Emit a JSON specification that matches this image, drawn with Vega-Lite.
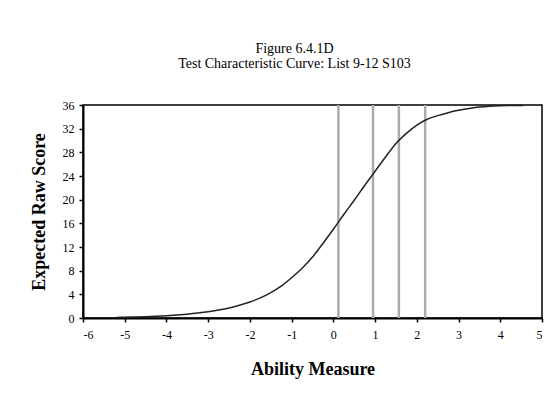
{
  "$schema": "https://vega.github.io/schema/vega-lite/v6.json",
  "width": 459,
  "height": 213,
  "autosize": {"type": "none"},
  "padding": {"left": 83, "top": 105, "right": 17, "bottom": 75},
  "background": "white",
  "title": {
    "text": ["Figure 6.4.1D", "Test Characteristic Curve: List 9-12 S103"],
    "font": "Liberation Serif",
    "fontSize": 14,
    "fontWeight": "normal",
    "color": "#000",
    "anchor": "middle",
    "dx": -18,
    "offset": 28,
    "lineHeight": 15
  },
  "config": {
    "view": {"stroke": "#000", "strokeWidth": 1.5},
    "axis": {
      "labelFont": "Liberation Serif",
      "labelFontSize": 12,
      "labelColor": "#000",
      "titleFont": "Liberation Serif",
      "titleFontSize": 18,
      "titleFontWeight": "bold",
      "titleColor": "#000",
      "domainColor": "#000",
      "domainWidth": 2,
      "tickColor": "#000",
      "tickWidth": 1.5,
      "tickSize": 4,
      "grid": false
    }
  },
  "datasets": {
    "curve": [
      {"theta": -5.2, "score": 0.10},
      {"theta": -5.0, "score": 0.13},
      {"theta": -4.75, "score": 0.17},
      {"theta": -4.5, "score": 0.22},
      {"theta": -4.25, "score": 0.29},
      {"theta": -4.0, "score": 0.38},
      {"theta": -3.75, "score": 0.50},
      {"theta": -3.5, "score": 0.65},
      {"theta": -3.25, "score": 0.83},
      {"theta": -3.0, "score": 1.05},
      {"theta": -2.75, "score": 1.35},
      {"theta": -2.5, "score": 1.7},
      {"theta": -2.25, "score": 2.15},
      {"theta": -2.0, "score": 2.7},
      {"theta": -1.75, "score": 3.4},
      {"theta": -1.5, "score": 4.3},
      {"theta": -1.25, "score": 5.4},
      {"theta": -1.0, "score": 6.8},
      {"theta": -0.75, "score": 8.4},
      {"theta": -0.5, "score": 10.3},
      {"theta": -0.25, "score": 12.6},
      {"theta": 0.0, "score": 15.0},
      {"theta": 0.25, "score": 17.5},
      {"theta": 0.5, "score": 19.9},
      {"theta": 0.75, "score": 22.4},
      {"theta": 1.0, "score": 24.8},
      {"theta": 1.25, "score": 27.2},
      {"theta": 1.5, "score": 29.5},
      {"theta": 1.75, "score": 31.2},
      {"theta": 2.0, "score": 32.6},
      {"theta": 2.25, "score": 33.6},
      {"theta": 2.5, "score": 34.2},
      {"theta": 2.75, "score": 34.7},
      {"theta": 3.0, "score": 35.1},
      {"theta": 3.25, "score": 35.4},
      {"theta": 3.5, "score": 35.65},
      {"theta": 3.75, "score": 35.8},
      {"theta": 4.0, "score": 35.87},
      {"theta": 4.25, "score": 35.9},
      {"theta": 4.55, "score": 35.92}
    ],
    "cuts": [
      {"cut": 0.12},
      {"cut": 0.95},
      {"cut": 1.57},
      {"cut": 2.2}
    ]
  },
  "layer": [
    {
      "data": {"name": "cuts"},
      "mark": {"type": "rule", "color": "#ababab", "strokeWidth": 2.5},
      "encoding": {
        "x": {"field": "cut", "type": "quantitative", "scale": {"domain": [-6, 5]}}
      }
    },
    {
      "data": {"name": "curve"},
      "mark": {"type": "line", "color": "#222", "strokeWidth": 1.5, "interpolate": "monotone"},
      "encoding": {
        "x": {
          "field": "theta",
          "type": "quantitative",
          "scale": {"domain": [-6, 5], "nice": false, "zero": false},
          "axis": {
            "title": "Ability Measure",
            "values": [-6, -5, -4, -3, -2, -1, 0, 1, 2, 3, 4, 5],
            "labelExpr": "toString(datum.value)",
            "labelPadding": 7,
            "titlePadding": 20
          }
        },
        "y": {
          "field": "score",
          "type": "quantitative",
          "scale": {"domain": [0, 36], "nice": false},
          "axis": {
            "title": "Expected Raw Score",
            "values": [0, 4, 8, 12, 16, 20, 24, 28, 32, 36],
            "labelPadding": 5,
            "titlePadding": 14
          }
        }
      }
    }
  ]
}
